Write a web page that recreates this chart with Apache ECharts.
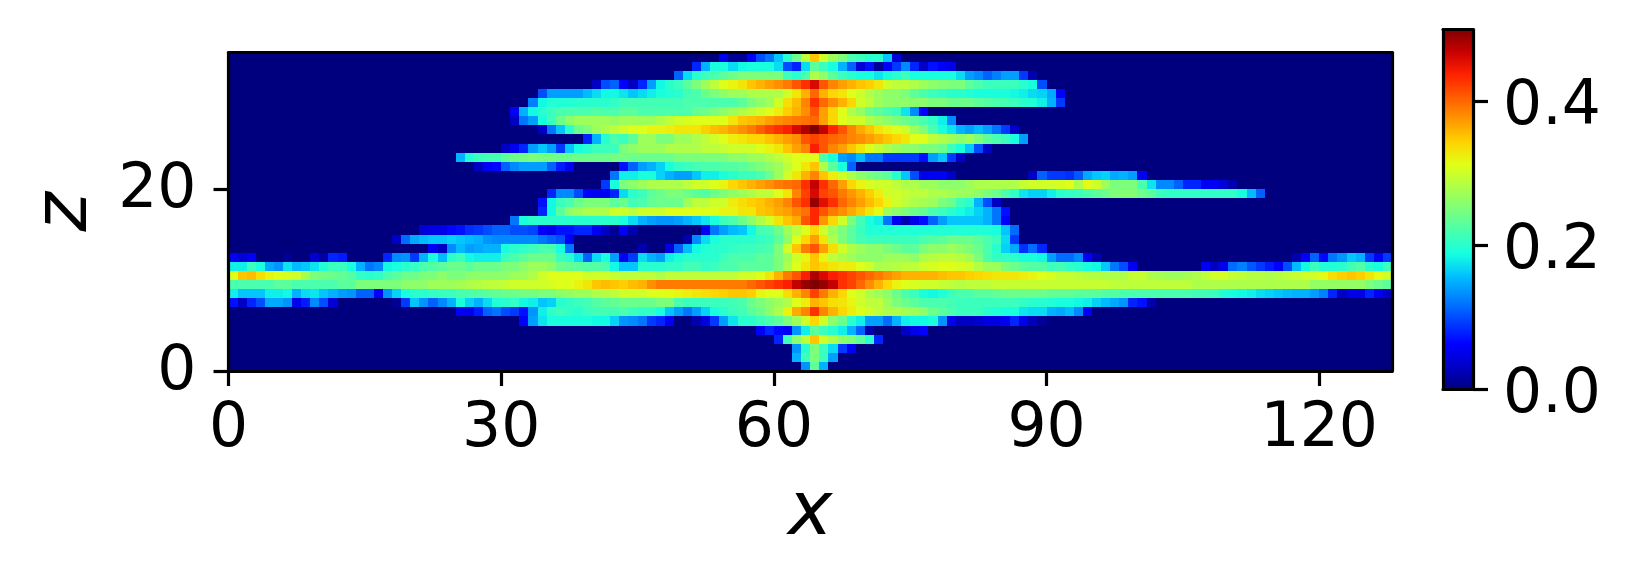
<!DOCTYPE html>
<html>
<head>
<meta charset="utf-8">
<style>
	html, body { margin: 0; padding: 0; background: #fff; }
	#chart { width: 1631px; height: 580px; }
</style>
<script src="https://cdn.jsdelivr.net/npm/echarts@6/dist/echarts.min.js"></script>
</head>
<body>
<div id="chart"></div>
<script>
// tick labels
const xTicks = [0, 30, 60, 90, 120]
const zTicks = [0, 20]
const barTicks = [0, 0.2, 0.4]

// first filled column of each row, bottom row (z = 0) first
const rowStart = [63, 62, 62, 60, 58, 32, 25, 0, 0, 0, 0, 0, 0, 22, 18, 21, 31, 34, 34, 35, 41, 42, 27, 25, 30, 39, 34, 31, 31, 33, 34, 40, 49, 51, 54]

// field values in hundredths, one list per row
const z00 = [13.5, 23, 15]
const z01 = [15, 21, 25, 21, 14]
const z02 = [13.5, 20, 25, 21, 17, 9, 5.5]
const z03 = [8, 21, 26, 29, 35, 30, 28, 26, 25, 23, 20, 8]
const z04 = [5.5, 8, 6.5, 5.5, 13.5, 18, 23, 21, 20, 18, 15, 11, 2, 0, 0, 0, 3, 5, 6]
const z05 = [6, 14, 17.5, 19, 19, 19, 19, 19, 18.5, 18.5, 16.5, 13.5, 13, 12, 9, 8, 5.5, 0, 0, 2, 4.5, 9, 14, 17.5, 20, 20, 21, 22, 23, 25, 27, 30, 34, 30, 26, 24, 20, 18, 14, 14, 11.5, 15, 18, 18.5, 18.5, 19, 13.5, 5, 3, 3, 3.5, 4.5, 4.5, 5.5, 8, 5, 2.5, 1]
const z06 = [5.5, 5, 7.5, 11, 12, 10, 9, 7, 13.5, 18, 20.5, 21, 20.5, 20, 21, 21.5, 21.5, 21.5, 22, 21, 20.5, 20.5, 19, 16, 14, 12, 14, 16.5, 19, 20, 21, 21.5, 23, 24, 26, 28, 32, 36.5, 38.5, 43, 38.5, 36, 34, 32.5, 31, 30, 29, 28, 28, 27.5, 27, 26, 24, 23, 22, 21, 21, 21, 20, 19.5, 19, 19, 17.5, 17, 17, 15, 14.5, 15.5, 13, 5.5]
const z07 = [7, 3, 8, 10, 14.5, 14.5, 13.5, 5, 7.5, 13, 10, 4, 0, 0, 0, 0, 0, 0, 1, 9, 16, 13.5, 11, 13, 15, 19, 16.5, 15, 17, 19.5, 20, 20.5, 18.5, 18, 16, 16.5, 20, 20.5, 21, 21.5, 22.5, 23, 23.5, 24, 24, 24, 24, 25, 25, 22, 21, 21, 21, 21, 21, 21.5, 22, 24, 25, 26, 27, 28, 31, 32.5, 36, 35, 33.5, 33, 32, 30, 29, 29, 27, 25, 24, 23, 22, 22, 22, 21.5, 21, 21, 21, 21, 21, 21, 21, 20.5, 20, 20, 19.5, 19, 19, 18.5, 18, 16.5, 15.5, 14.5, 13.5, 8, 7, 2]
const z08 = [18, 16, 16, 16, 18, 18, 18.5, 15, 17, 17.5, 16, 15, 14, 13.5, 11, 11, 6, 13.5, 16.5, 19, 20, 20, 20.5, 21, 21, 22, 22, 22.5, 23, 23.5, 24, 24, 24.5, 24.5, 25, 25, 26, 26.5, 27, 27, 28, 28.5, 29, 30, 30, 30, 31, 31, 31.5, 32, 32.5, 33, 33.5, 34, 34.5, 35, 35, 34.5, 32, 31, 31, 33.5, 36, 38.5, 42, 39, 36, 34, 31, 30, 28, 27, 26, 24, 22, 21, 19, 18.5, 19.5, 21, 22, 22, 23, 23, 23.5, 24, 24, 24, 24, 24, 23.5, 23.5, 23.5, 23, 23, 23, 22.5, 22.5, 22, 22, 22, 22, 22, 22, 22, 22, 21.5, 21.5, 21, 19.5, 19, 18.5, 18, 17, 16.5, 16, 15.5, 15, 15, 14, 12.5, 8, 3, 5, 5, 8, 5.5, 3]
const z09 = [22, 22, 22, 22, 22, 23, 23, 22, 22, 22, 22, 22, 23, 23, 25, 25, 25, 25, 25, 26, 26, 26, 27, 27, 27, 27.5, 28, 28.5, 29, 29, 29.5, 30, 30, 30, 30, 30.5, 31, 31, 32, 33, 35, 35.5, 35, 34.5, 35.5, 36, 38, 39, 39, 39, 39, 39, 39, 39, 39, 39, 39, 40, 41, 42, 43, 44, 47, 49, 50, 49, 47, 43, 42, 40, 38, 36, 34, 32, 31, 30.5, 30, 30, 29.5, 29, 28.5, 29, 29, 29, 29.5, 29.5, 29.5, 29.5, 29.5, 29.5, 29.5, 29.5, 29.5, 29.5, 29.5, 29.5, 29.5, 29, 29, 29, 29, 29, 29, 29, 29, 29, 28, 28, 28, 28, 28, 28, 28, 28, 28, 28, 28, 28, 28, 26.5, 26.5, 26.5, 26.5, 26.5, 26.5, 25, 24, 23]
const z10 = [31, 35, 35.5, 33.5, 32, 31, 30.5, 30, 27.5, 25, 24.5, 24, 23.5, 22.5, 20.5, 20, 20.5, 22, 23, 24, 24, 25, 25, 26, 25, 25, 26, 26, 26, 26, 26, 27, 27, 28, 30, 31, 31, 31, 31, 30, 30, 30, 29.5, 29, 29, 29, 29, 28, 29, 29, 29, 29, 29, 29, 29, 29, 30, 30, 31, 33, 36, 39, 41, 44, 48, 46, 44, 43, 42, 41, 40, 39, 38, 37, 36, 36, 36, 36, 35.5, 35, 35, 34.5, 34, 33.5, 33, 33, 33, 32.5, 32, 31, 30.5, 29.5, 29.5, 29, 28.5, 28.5, 28, 28, 28, 29.5, 29.5, 28, 27.5, 27, 27, 27.5, 28, 29, 30, 30.5, 29.5, 29, 28.5, 28.5, 28, 28.5, 29, 29.5, 30, 30, 31.5, 33.5, 34.5, 35, 34.5, 33, 31.5, 30]
const z11 = [18, 18, 21, 19, 14.5, 13.5, 17.5, 15.5, 16, 17.5, 19.5, 21, 21, 19, 15, 12, 13, 18.5, 19, 20, 20.5, 22, 22.5, 23, 24, 24, 23, 24, 24, 24, 25, 25, 26, 27, 27, 26, 24, 23.5, 23, 22.5, 22.5, 22, 18.5, 16, 16, 20, 20, 20, 20.5, 20.5, 21.5, 21.5, 20.5, 21, 22, 22, 23, 23, 23, 23, 25, 28, 31, 33, 35, 34, 33, 32.5, 32.5, 31, 30, 28, 28, 28.5, 29, 29, 30, 30.5, 31, 31, 30.5, 30, 28.5, 27, 27, 25, 24, 23, 22.5, 22.5, 21, 21.5, 20.5, 20, 19, 18.5, 16, 12, 10, 5.5, 0, 0, 0, 0, 0, 0, 0, 5.5, 3, 5, 11.5, 12.5, 10.5, 9, 7.5, 6, 10, 15.5, 18.5, 21, 19.5, 19.5, 20, 21.5, 22.5, 20, 19, 21]
const z12 = [5.5, 4, 5.5, 0, 0, 0, 1, 0, 0, 3.5, 1.5, 8, 7.5, 0, 0, 0, 0, 8, 13, 13.5, 9, 15, 19, 15.5, 20, 21, 18.5, 18, 18, 18, 21, 22, 23, 24, 24, 24, 21, 20, 17, 11, 17, 19, 14, 5.5, 9, 17, 15, 14, 18, 19, 20, 20, 20, 20, 21, 22, 22, 22, 23, 23, 25, 27, 30, 32, 35, 32, 29, 28, 27, 26, 26, 26, 27, 27, 27, 26, 28, 28.5, 29, 29, 28.5, 27.5, 25, 22, 20.5, 20.5, 20, 19, 19, 18.5, 14, 11.5, 11.5, 13, 5.5, 2, 0, 0, 0, 0, 0, 0, 0, 0, 0, 0, 0, 0, 0, 0, 0, 0, 0, 0, 0, 0, 0, 2, 6, 11, 6.5, 12, 13.5, 16, 15, 9, 5.5, 9]
const z13 = [5.5, 3, 13, 15.5, 14, 14.5, 15, 15, 19, 20, 20.5, 21, 22, 22, 19, 12, 0, 0, 0, 0, 0, 0, 0, 2, 0, 0, 4.5, 11, 15.5, 18.5, 19.5, 20, 20, 20.5, 21, 21, 21.5, 22, 25, 30, 35, 39, 41, 37, 33.5, 30, 28, 27, 26, 26, 25, 24, 23, 23, 25, 26, 26, 27, 26, 25, 24, 22, 20, 16.5, 14.5, 8.5, 11.5, 8]
const z14 = [3, 11.5, 14.5, 15.5, 16, 16, 16.5, 16, 15.5, 15, 13.5, 13, 13, 13, 13, 13, 12, 11, 10, 5.5, 0, 0, 0, 0, 0, 0, 0, 0, 0, 0, 0, 0, 2, 13, 17, 19, 20, 20, 20, 20, 20.5, 21, 23, 26, 31, 34, 37, 33, 28, 25, 23, 21.5, 21, 21, 21, 21, 21, 21, 22, 22.5, 23, 24, 24, 24, 23, 22, 21, 17, 9]
const z15 = [4, 4.5, 5, 6.5, 7, 8.5, 9, 10, 11, 11, 10, 10, 9.5, 6, 5, 7, 7, 8, 8, 5.5, 3, 1, 5.5, 2, 0, 0, 0, 0, 0, 0, 0, 5.5, 12, 14, 15.5, 16, 18.5, 21.5, 22, 24, 27, 29, 31, 34, 30, 27, 25, 23, 21, 19.5, 19.5, 19.5, 19.5, 19.5, 19.5, 19.5, 19.5, 19.5, 19.5, 19.5, 19.5, 19.5, 19.5, 19, 16, 11.5]
const z16 = [12, 19, 20, 20, 20, 20, 20, 20, 20, 20, 20, 20, 19, 17, 15, 14, 13.5, 13.5, 14, 15, 16, 17.5, 19, 21, 22, 24, 26, 28, 30, 33, 35, 36.5, 41, 43.5, 37.5, 34, 30, 25, 21.5, 19, 18, 12, 5.5, 2, 5, 7, 11, 14, 16, 16, 16, 16, 15, 12, 6]
const z17 = [8, 18.5, 23, 26, 27, 28, 28, 28, 30, 30, 29, 30, 30, 30, 31, 31, 31, 31, 31, 31, 32, 32, 33, 33, 35, 35.5, 36.5, 37, 38.5, 39.5, 43.5, 41, 39, 38, 36.5, 35, 33, 31.5, 27, 26, 25, 24, 23.5, 22, 21, 20, 19, 18, 16.5, 15, 12, 7]
const z18 = [7, 18.5, 21, 22, 24, 25, 25, 25, 23, 24, 21.5, 22, 23.5, 24, 24, 24, 27, 29, 29, 30, 30, 32.5, 33.5, 34.5, 35, 36, 37, 38.5, 41, 43, 49, 45.5, 43, 40, 38.5, 37, 35.5, 34, 32, 30, 29, 28, 27.5, 27, 25, 24, 21, 20, 15, 10, 3]
const z19 = [8, 13, 13, 10, 6, 5.5, 5.5, 8, 17, 20, 21, 23, 24, 25, 25, 24, 23, 22.5, 24, 25, 26, 27, 28, 29, 29, 31, 33, 38.5, 42, 46, 42, 41, 39, 37.5, 36, 34.5, 32.5, 30, 30, 29.5, 29, 29, 28, 28, 27.5, 27, 27, 26, 25, 24, 22, 20.5, 17.5, 16.5, 16.5, 18, 20, 20.5, 21, 22, 23, 24, 25, 25.5, 25.5, 24, 23, 21, 20.5, 20.5, 20.5, 20.5, 20.5, 20.5, 20.5, 20.5, 19, 15.5, 11]
const z20 = [9, 19, 25, 26, 27, 28, 28, 28, 28, 29, 30, 30, 31, 32, 34, 35, 36, 37, 38, 39, 39.5, 40, 43, 47, 43, 40, 37, 34, 32, 30.5, 30, 30, 29, 28, 28, 27, 27, 26, 26, 26, 27, 28, 28, 28, 28, 28, 29.5, 30, 30, 30, 30.5, 31, 28, 31.5, 30, 27, 25, 25, 25, 22, 17.5, 13, 13, 11, 8, 8, 5.5, 5.5, 4, 2]
const z21 = [12, 18, 18, 19, 19, 16.5, 15, 14, 14, 16, 18, 18, 19, 20, 21, 21, 22, 24, 27, 30, 33, 36, 38.5, 35, 32.5, 30, 28, 26, 25, 24, 23, 20, 16, 10, 5, 5.5, 5.5, 3, 0, 0, 0, 0, 0, 0, 0, 0, 3, 11, 9, 9, 8.5, 10.5, 14.5, 16, 16.5, 14.5, 15, 14, 5.5]
const z22 = [3, 5.5, 6.5, 11, 13, 14, 14, 14, 11, 7.5, 5.5, 0, 0, 0, 0, 0, 7, 11, 14, 15, 16.5, 19, 20.5, 21, 21.5, 22, 22, 22.5, 22.5, 23, 24, 25, 26, 27, 29, 31, 33, 35, 28, 23, 19, 11]
const z23 = [15, 19.5, 21, 21.5, 21.5, 23, 24, 24.5, 25, 24.5, 24.5, 24, 24, 24, 24, 24, 24, 24.5, 24.5, 24, 24, 24, 24, 24, 25, 25, 25, 25, 25, 25, 26, 26, 27, 27, 28, 29, 30, 31, 31, 31, 22, 19, 14, 13, 15.5, 12, 12, 9, 9, 9, 9, 7, 14, 16, 9, 3]
const z24 = [3, 5.5, 8, 14, 16, 14, 9, 16, 19, 20, 21, 21, 21, 25, 26, 27, 27, 27, 28, 28, 28, 28, 29, 29, 29.5, 30, 30, 30, 31, 32, 33, 35, 37, 38.5, 44, 41, 38.5, 37, 35, 33, 31, 29.5, 28, 27, 26, 26, 25, 25, 24, 21, 19, 16, 10, 3]
const z25 = [8, 15, 20, 22, 21, 23, 27, 27, 25, 25, 27, 27, 28, 29, 30, 31, 32.5, 33, 34, 34, 35, 36, 37, 38, 41, 42, 41, 40, 39.5, 38.5, 38, 37, 36, 35, 34, 33, 31, 31, 29, 28, 27, 26, 27, 25, 23, 22, 21, 19, 14]
const z26 = [3, 12, 16, 20, 24, 25, 27, 28, 29, 30, 31, 31, 32, 32, 32.5, 33, 33, 33, 34.5, 35.5, 36, 37, 38, 39, 40.5, 42, 43, 44, 46, 48, 50, 47, 43.5, 41, 38.5, 36.5, 35, 33, 32, 31, 30, 27, 25, 22, 19, 17.5, 15, 14, 15.5, 14, 12, 9, 3]
const z27 = [3, 12, 14, 19, 21, 24, 26, 27, 27, 27, 27, 26.5, 27, 27, 27, 27, 28, 29, 30, 30.5, 31, 31, 31, 31, 33, 35, 35.5, 36, 37, 38, 38.5, 39, 39.5, 40, 37, 34, 31, 30, 30, 28, 27, 26, 25, 24, 23, 22, 20.5, 18, 13]
const z28 = [6, 15, 18.5, 20, 21, 22, 22, 22, 22, 22.5, 22, 22, 23, 23, 22, 22, 22, 22, 22, 22, 23.5, 24, 25, 26, 27, 28, 29, 30, 31, 32.5, 34.5, 36, 38, 41, 37, 34, 31, 28, 26.5, 24, 23, 22, 21, 17.5, 13, 6]
const z29 = [12.5, 18.5, 19.5, 19.5, 19.5, 20, 20, 20, 20, 20.5, 21.5, 21.5, 21.5, 21.5, 21.5, 21.5, 21.5, 22, 22, 22, 22, 22, 22, 23, 25, 26, 27, 30, 33.5, 35.5, 38.5, 43, 40, 38, 36, 34, 30, 29, 27, 26, 26, 26, 26, 26, 25, 25, 24, 24, 24, 23, 22.5, 22, 21.5, 21, 20, 19.5, 18, 15, 9]
const z30 = [10, 14, 14, 14, 14, 15.5, 17, 18.5, 18.5, 17.5, 16, 17, 18, 19, 19.5, 20, 21.5, 22, 24, 25, 26, 27, 27, 28, 28, 28, 28, 30, 33, 36, 40, 36, 34, 33, 31, 30, 28, 27, 26, 26, 25, 23, 22, 21, 20.5, 20, 20, 19.5, 19, 19, 19, 19, 18.5, 18, 17, 16.5, 14.5, 6]
const z31 = [3, 10, 11, 6, 3, 8, 14, 18.5, 20, 21, 23, 25, 27, 29, 31, 32, 33, 35, 36, 37, 38, 39, 41, 43, 46, 41, 38.5, 37, 36, 35, 34.5, 33, 30, 29, 29, 28, 27, 26, 25.5, 25, 25, 23, 22, 21, 21, 21, 21, 20, 19, 10]
const z32 = [11, 17, 20, 21, 22, 23, 24, 25, 25, 25, 25, 25, 21, 20, 22, 28, 26, 23, 21, 20, 19, 19, 17.5, 19, 20, 21, 19, 19, 19, 19, 19, 17, 14, 13, 11, 12.5, 14, 14, 9, 2]
const z33 = [8, 15, 19, 19, 17, 18.5, 19, 19, 19, 17, 10, 8, 17, 23, 21, 19, 15, 11, 4, 7, 1, 6, 9, 13, 8, 3, 7, 6, 5]
const z34 = [5, 1, 1, 6, 10, 12, 16, 20, 24, 29, 35, 30, 27, 25, 22, 21, 20, 20, 16, 4]

const rows = [z00, z01, z02, z03, z04, z05, z06, z07, z08, z09, z10, z11, z12, z13, z14, z15, z16, z17, z18, z19, z20, z21, z22, z23, z24, z25, z26, z27, z28, z29, z30, z31, z32, z33, z34]

const colCount = 128

const cells = []
rows.forEach((row, z) => {
	for (let x = 0; x < colCount; x++) {
		const v = row[x - rowStart[z]]
		cells.push([x, z, (v || 0) / 100])
	}
})

const jet = [
	'#00007f', '#0000c8', '#0000ff', '#0040ff', '#0080ff', '#00bfff', '#15ffe2', '#48ffaf', '#7cff7b',
	'#afff48', '#e2ff15', '#ffd200', '#ff9700', '#ff5c00', '#ff2100', '#c80000', '#800000'
]

const font = 'DejaVu Sans'
const frame = { show: true, onZero: false, lineStyle: { color: '#000', width: 3.2 } }
const tick = { length: 15, lineStyle: { color: '#000', width: 3.2 } }
const label = { color: '#000', fontFamily: font, fontSize: 61.5 }
const axisName = { color: '#000', fontFamily: font, fontStyle: 'italic', fontSize: 75 }

// a bare axis that only draws one side of a box
const edge = (gridIndex, position, min, max) => ({
	type: 'value', gridIndex, position, min, max, z: 5,
	axisLine: frame, axisTick: { show: false }, axisLabel: { show: false }, splitLine: { show: false }
})

// cells snapped to whole pixels so neighbours leave no seams
const renderCell = (params, api) => {
	const a = api.coord([api.value(0), api.value(1)])
	const b = api.coord([api.value(0) + 1, api.value(1) + 1])
	const x = Math.round(a[0])
	const y = Math.round(b[1])
	return {
		type: 'rect',
		shape: { x, y, width: Math.round(b[0]) - x, height: Math.round(a[1]) - y },
		style: { fill: api.visual('color') }
	}
}

const node = document.getElementById('chart')
const myChart = echarts.init(node)

const plot = { left: 228.5, top: 52.5, width: 1163.5, height: 318.5, outerBoundsMode: 'none' }
const bar = { left: 1443, top: 29.5, width: 30, height: 359.5, outerBoundsMode: 'none' }

myChart.setOption({
	animation: false,
	backgroundColor: '#fff',
	grid: [plot, bar],
	xAxis: [
		{
			type: 'value', gridIndex: 0, position: 'bottom', min: 0, max: colCount, z: 5,
			axisLine: frame,
			axisTick: { ...tick, customValues: xTicks },
			axisLabel: { ...label, margin: 28, customValues: xTicks },
			splitLine: { show: false },
			name: 'x',
			nameLocation: 'middle',
			nameGap: 106,
			nameTextStyle: axisName
		},
		edge(0, 'top', 0, colCount),
		edge(1, 'bottom', 0, 1),
		edge(1, 'top', 0, 1)
	],
	yAxis: [
		{
			type: 'value', gridIndex: 0, position: 'left', min: 0, max: rows.length, z: 5,
			axisLine: frame,
			axisTick: { ...tick, customValues: zTicks },
			axisLabel: { ...label, margin: 32, verticalAlign: 'top', lineHeight: 4, customValues: zTicks },
			splitLine: { show: false },
			name: 'z',
			nameLocation: 'middle',
			nameGap: 124,
			nameTextStyle: axisName
		},
		edge(0, 'right', 0, rows.length),
		{
			type: 'value', gridIndex: 1, position: 'right', min: 0, max: 0.5, z: 5,
			axisLine: frame,
			axisTick: { ...tick, customValues: barTicks },
			axisLabel: { ...label, margin: 30, verticalAlign: 'top', lineHeight: 14, customValues: barTicks, formatter: v => v.toFixed(1) },
			splitLine: { show: false }
		},
		edge(1, 'left', 0, 0.5)
	],
	visualMap: {
		type: 'continuous',
		seriesIndex: 0,
		dimension: 2,
		min: 0,
		max: 0.5,
		left: bar.left,
		top: bar.top,
		padding: 0,
		itemWidth: bar.width,
		itemHeight: bar.height,
		calculable: false,
		showLabel: false,
		text: null,
		inRange: { color: jet }
	},
	series: [
		{
			type: 'custom',
			xAxisIndex: 0,
			yAxisIndex: 0,
			data: cells,
			encode: { x: 0, y: 1 },
			renderItem: renderCell,
			progressive: 0,
			silent: true
		}
	]
})

window.addEventListener('resize', () => {
	myChart.resize()
})
</script>
</body>
</html>
